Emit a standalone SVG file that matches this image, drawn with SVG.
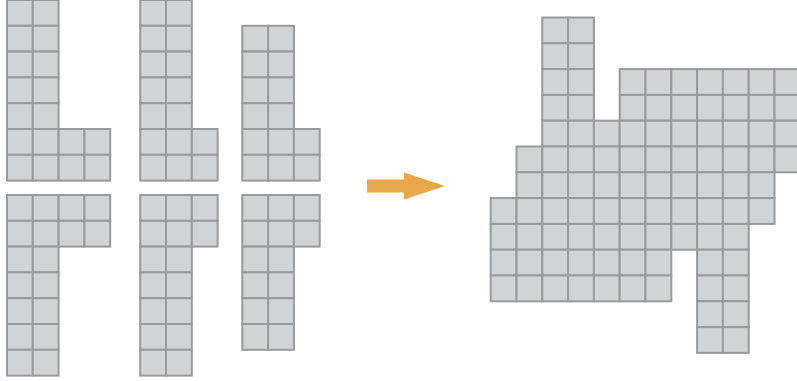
<svg xmlns="http://www.w3.org/2000/svg" xmlns:xlink="http://www.w3.org/1999/xlink" width="797" height="381" viewBox="0 0 797 381">
<style>
.cell{fill:#d2d3d5;stroke:#999a9b;stroke-width:2}
.arrow{fill:#e8a748}
</style>
<defs>
<rect id="c" class="cell" width="25.8" height="25.8"/>
</defs>
<rect width="797" height="381" fill="#ffffff"/>
<g id="piece1">
<use href="#c" x="7" y="0"/><use href="#c" x="32.8" y="0"/>
<use href="#c" x="7" y="25.8"/><use href="#c" x="32.8" y="25.8"/>
<use href="#c" x="7" y="51.6"/><use href="#c" x="32.8" y="51.6"/>
<use href="#c" x="7" y="77.4"/><use href="#c" x="32.8" y="77.4"/>
<use href="#c" x="7" y="103.2"/><use href="#c" x="32.8" y="103.2"/>
<use href="#c" x="7" y="129"/><use href="#c" x="32.8" y="129"/><use href="#c" x="58.6" y="129"/><use href="#c" x="84.4" y="129"/>
<use href="#c" x="7" y="154.8"/><use href="#c" x="32.8" y="154.8"/><use href="#c" x="58.6" y="154.8"/><use href="#c" x="84.4" y="154.8"/>
</g>
<g id="piece2">
<use href="#c" x="7" y="195"/><use href="#c" x="32.8" y="195"/><use href="#c" x="58.6" y="195"/><use href="#c" x="84.4" y="195"/>
<use href="#c" x="7" y="220.8"/><use href="#c" x="32.8" y="220.8"/><use href="#c" x="58.6" y="220.8"/><use href="#c" x="84.4" y="220.8"/>
<use href="#c" x="7" y="246.6"/><use href="#c" x="32.8" y="246.6"/>
<use href="#c" x="7" y="272.4"/><use href="#c" x="32.8" y="272.4"/>
<use href="#c" x="7" y="298.2"/><use href="#c" x="32.8" y="298.2"/>
<use href="#c" x="7" y="324"/><use href="#c" x="32.8" y="324"/>
<use href="#c" x="7" y="349.8"/><use href="#c" x="32.8" y="349.8"/>
</g>
<g id="piece3">
<use href="#c" x="140.2" y="0"/><use href="#c" x="166" y="0"/>
<use href="#c" x="140.2" y="25.8"/><use href="#c" x="166" y="25.8"/>
<use href="#c" x="140.2" y="51.6"/><use href="#c" x="166" y="51.6"/>
<use href="#c" x="140.2" y="77.4"/><use href="#c" x="166" y="77.4"/>
<use href="#c" x="140.2" y="103.2"/><use href="#c" x="166" y="103.2"/>
<use href="#c" x="140.2" y="129"/><use href="#c" x="166" y="129"/><use href="#c" x="191.8" y="129"/>
<use href="#c" x="140.2" y="154.8"/><use href="#c" x="166" y="154.8"/><use href="#c" x="191.8" y="154.8"/>
</g>
<g id="piece4">
<use href="#c" x="140.2" y="195"/><use href="#c" x="166" y="195"/><use href="#c" x="191.8" y="195"/>
<use href="#c" x="140.2" y="220.8"/><use href="#c" x="166" y="220.8"/><use href="#c" x="191.8" y="220.8"/>
<use href="#c" x="140.2" y="246.6"/><use href="#c" x="166" y="246.6"/>
<use href="#c" x="140.2" y="272.4"/><use href="#c" x="166" y="272.4"/>
<use href="#c" x="140.2" y="298.2"/><use href="#c" x="166" y="298.2"/>
<use href="#c" x="140.2" y="324"/><use href="#c" x="166" y="324"/>
<use href="#c" x="140.2" y="349.8"/><use href="#c" x="166" y="349.8"/>
</g>
<g id="piece5">
<use href="#c" x="242.3" y="25.8"/><use href="#c" x="268.1" y="25.8"/>
<use href="#c" x="242.3" y="51.6"/><use href="#c" x="268.1" y="51.6"/>
<use href="#c" x="242.3" y="77.4"/><use href="#c" x="268.1" y="77.4"/>
<use href="#c" x="242.3" y="103.2"/><use href="#c" x="268.1" y="103.2"/>
<use href="#c" x="242.3" y="129"/><use href="#c" x="268.1" y="129"/><use href="#c" x="293.9" y="129"/>
<use href="#c" x="242.3" y="154.8"/><use href="#c" x="268.1" y="154.8"/><use href="#c" x="293.9" y="154.8"/>
</g>
<g id="piece6">
<use href="#c" x="242.3" y="195"/><use href="#c" x="268.1" y="195"/><use href="#c" x="293.9" y="195"/>
<use href="#c" x="242.3" y="220.8"/><use href="#c" x="268.1" y="220.8"/><use href="#c" x="293.9" y="220.8"/>
<use href="#c" x="242.3" y="246.6"/><use href="#c" x="268.1" y="246.6"/>
<use href="#c" x="242.3" y="272.4"/><use href="#c" x="268.1" y="272.4"/>
<use href="#c" x="242.3" y="298.2"/><use href="#c" x="268.1" y="298.2"/>
<use href="#c" x="242.3" y="324"/><use href="#c" x="268.1" y="324"/>
</g>
<g id="connectors">
<polygon class="arrow" points="367,179.5 404,179.5 404,172.5 445,186 404,199.5 404,192.5 367,192.5"/>
</g>
<g id="merged">
<use href="#c" x="542.3" y="17.5"/><use href="#c" x="568.1" y="17.5"/>
<use href="#c" x="542.3" y="43.3"/><use href="#c" x="568.1" y="43.3"/>
<use href="#c" x="542.3" y="69.1"/><use href="#c" x="568.1" y="69.1"/>
<use href="#c" x="619.7" y="69.1"/><use href="#c" x="645.5" y="69.1"/><use href="#c" x="671.3" y="69.1"/><use href="#c" x="697.1" y="69.1"/><use href="#c" x="722.9" y="69.1"/><use href="#c" x="748.7" y="69.1"/><use href="#c" x="774.5" y="69.1"/>
<use href="#c" x="542.3" y="94.9"/><use href="#c" x="568.1" y="94.9"/>
<use href="#c" x="619.7" y="94.9"/><use href="#c" x="645.5" y="94.9"/><use href="#c" x="671.3" y="94.9"/><use href="#c" x="697.1" y="94.9"/><use href="#c" x="722.9" y="94.9"/><use href="#c" x="748.7" y="94.9"/><use href="#c" x="774.5" y="94.9"/>
<use href="#c" x="542.3" y="120.7"/><use href="#c" x="568.1" y="120.7"/><use href="#c" x="593.9" y="120.7"/><use href="#c" x="619.7" y="120.7"/><use href="#c" x="645.5" y="120.7"/><use href="#c" x="671.3" y="120.7"/><use href="#c" x="697.1" y="120.7"/><use href="#c" x="722.9" y="120.7"/><use href="#c" x="748.7" y="120.7"/><use href="#c" x="774.5" y="120.7"/>
<use href="#c" x="516.5" y="146.5"/><use href="#c" x="542.3" y="146.5"/><use href="#c" x="568.1" y="146.5"/><use href="#c" x="593.9" y="146.5"/><use href="#c" x="619.7" y="146.5"/><use href="#c" x="645.5" y="146.5"/><use href="#c" x="671.3" y="146.5"/><use href="#c" x="697.1" y="146.5"/><use href="#c" x="722.9" y="146.5"/><use href="#c" x="748.7" y="146.5"/><use href="#c" x="774.5" y="146.5"/>
<use href="#c" x="516.5" y="172.3"/><use href="#c" x="542.3" y="172.3"/><use href="#c" x="568.1" y="172.3"/><use href="#c" x="593.9" y="172.3"/><use href="#c" x="619.7" y="172.3"/><use href="#c" x="645.5" y="172.3"/><use href="#c" x="671.3" y="172.3"/><use href="#c" x="697.1" y="172.3"/><use href="#c" x="722.9" y="172.3"/><use href="#c" x="748.7" y="172.3"/>
<use href="#c" x="490.7" y="198.1"/><use href="#c" x="516.5" y="198.1"/><use href="#c" x="542.3" y="198.1"/><use href="#c" x="568.1" y="198.1"/><use href="#c" x="593.9" y="198.1"/><use href="#c" x="619.7" y="198.1"/><use href="#c" x="645.5" y="198.1"/><use href="#c" x="671.3" y="198.1"/><use href="#c" x="697.1" y="198.1"/><use href="#c" x="722.9" y="198.1"/><use href="#c" x="748.7" y="198.1"/>
<use href="#c" x="490.7" y="223.9"/><use href="#c" x="516.5" y="223.9"/><use href="#c" x="542.3" y="223.9"/><use href="#c" x="568.1" y="223.9"/><use href="#c" x="593.9" y="223.9"/><use href="#c" x="619.7" y="223.9"/><use href="#c" x="645.5" y="223.9"/><use href="#c" x="671.3" y="223.9"/><use href="#c" x="697.1" y="223.9"/><use href="#c" x="722.9" y="223.9"/>
<use href="#c" x="490.7" y="249.7"/><use href="#c" x="516.5" y="249.7"/><use href="#c" x="542.3" y="249.7"/><use href="#c" x="568.1" y="249.7"/><use href="#c" x="593.9" y="249.7"/><use href="#c" x="619.7" y="249.7"/><use href="#c" x="645.5" y="249.7"/><use href="#c" x="697.1" y="249.7"/><use href="#c" x="722.9" y="249.7"/>
<use href="#c" x="490.7" y="275.5"/><use href="#c" x="516.5" y="275.5"/><use href="#c" x="542.3" y="275.5"/><use href="#c" x="568.1" y="275.5"/><use href="#c" x="593.9" y="275.5"/><use href="#c" x="619.7" y="275.5"/><use href="#c" x="645.5" y="275.5"/><use href="#c" x="697.1" y="275.5"/><use href="#c" x="722.9" y="275.5"/>
<use href="#c" x="697.1" y="301.3"/><use href="#c" x="722.9" y="301.3"/>
<use href="#c" x="697.1" y="327.1"/><use href="#c" x="722.9" y="327.1"/>
</g>
</svg>
